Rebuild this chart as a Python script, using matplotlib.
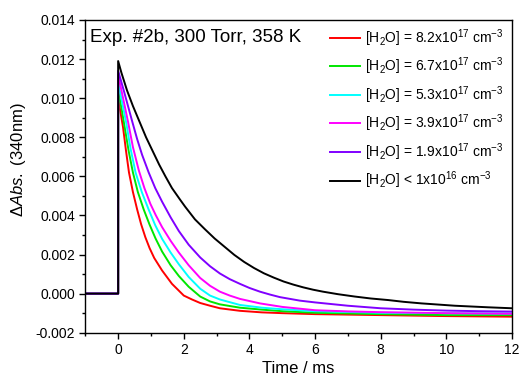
import matplotlib
matplotlib.use("Agg")
import matplotlib.pyplot as plt
from matplotlib.ticker import MultipleLocator, FormatStrFormatter

plt.rcParams['font.family'] = ['Liberation Sans', 'DejaVu Sans']
plt.rcParams['mathtext.fontset'] = 'custom'
plt.rcParams['mathtext.rm'] = 'Liberation Sans'
plt.rcParams['mathtext.it'] = 'Liberation Sans:italic'
plt.rcParams['mathtext.bf'] = 'Liberation Sans:bold'

labels = [
    r"[H$_2$O] = 8.2x10$^{17}$ cm$^{-3}$",
    r"[H$_2$O] = 6.7x10$^{17}$ cm$^{-3}$",
    r"[H$_2$O] = 5.3x10$^{17}$ cm$^{-3}$",
    r"[H$_2$O] = 3.9x10$^{17}$ cm$^{-3}$",
    r"[H$_2$O] = 1.9x10$^{17}$ cm$^{-3}$",
    r"[H$_2$O] < 1x10$^{16}$ cm$^{-3}$",
]
colors = ["#ff0000", "#00e600", "#00ffff", "#ff00ff", "#8000ff", "#000000"]

# pre-trigger baseline
t_pre = [-1.0, -0.5, 0.0]
v_pre = [0.0, 0.0, 0.0]

t_red = [0, 0.08, 0.15, 0.24, 0.33, 0.45, 0.58, 0.7, 0.83, 0.96, 1.1, 1.34, 1.64, 2.0, 2.25, 2.5, 2.8, 3.1, 3.71, 4.38, 5, 6, 8, 10, 12]
v_red = [0.0100, 0.0092, 0.0085, 0.0073, 0.0062, 0.0052, 0.0043, 0.00355, 0.00288, 0.00232, 0.00182, 0.00118, 0.0005, -0.0001, -0.0003, -0.00048, -0.00062, -0.00075, -0.00088, -0.00096, -0.001, -0.00105, -0.0011, -0.00115, -0.00118]

t_green = [0, 0.1, 0.2, 0.32, 0.45, 0.6, 0.78, 0.96, 1.14, 1.34, 1.6, 1.85, 2.15, 2.5, 2.8, 3.1, 3.71, 4.38, 5, 6, 8, 10, 12]
v_green = [0.0104, 0.0095, 0.0085, 0.0073, 0.0062, 0.0052, 0.0043, 0.00352, 0.00282, 0.00215, 0.00145, 0.0009, 0.00035, -0.00015, -0.0004, -0.00055, -0.00072, -0.00082, -0.0009, -0.00098, -0.00105, -0.0011, -0.0011]

t_cyan = [0, 0.12, 0.25, 0.38, 0.53, 0.72, 0.93, 1.13, 1.34, 1.6, 1.85, 2.15, 2.5, 2.8, 3.1, 3.71, 4.38, 5, 6, 8, 10, 12]
v_cyan = [0.0108, 0.0098, 0.0087, 0.0074, 0.0062, 0.0052, 0.0043, 0.0035, 0.0028, 0.0021, 0.0015, 0.00085, 0.00025, -0.0001, -0.0003, -0.00058, -0.00072, -0.0008, -0.0009, -0.00098, -0.001, -0.00102]

t_mag = [0, 0.15, 0.3, 0.45, 0.63, 0.8, 0.98, 1.15, 1.34, 1.6, 1.85, 2.15, 2.5, 2.8, 3.1, 3.4, 3.71, 4.32, 5, 6, 7, 8, 10, 12]
v_mag = [0.0112, 0.0100, 0.0088, 0.0075, 0.0063, 0.0054, 0.0046, 0.0040, 0.0034, 0.0027, 0.0021, 0.00145, 0.0008, 0.0004, 0.0001, -0.0001, -0.00027, -0.0005, -0.00068, -0.00085, -0.00091, -0.00095, -0.001, -0.00103]

t_pur = [0, 0.17, 0.3, 0.43, 0.58, 0.73, 0.93, 1.13, 1.34, 1.6, 1.85, 2.15, 2.5, 2.8, 3.1, 3.4, 3.71, 4.0, 4.32, 4.63, 4.93, 5.54, 6, 7, 8, 9, 10, 11, 12]
v_pur = [0.0114, 0.0104, 0.0096, 0.0088, 0.0079, 0.0071, 0.0062, 0.0054, 0.0047, 0.0039, 0.0032, 0.0025, 0.00185, 0.0014, 0.00103, 0.00074, 0.0005, 0.00029, 0.0001, -0.00005, -0.00018, -0.00036, -0.00045, -0.00062, -0.00075, -0.00082, -0.00087, -0.0009, -0.00092]

t_blk = [0, 0.1, 0.27, 0.45, 0.65, 0.85, 1.05, 1.25, 1.44, 1.64, 1.89, 2.04, 2.34, 2.64, 2.94, 3.24, 3.54, 3.84, 4.14, 4.44, 4.74, 5.04, 5.34, 5.64, 5.94, 6.24, 6.7, 7.21, 7.7, 8.23, 8.7, 9.24, 9.75, 10.26, 11.27, 12]
v_blk = [0.0119, 0.0113, 0.0104, 0.0096, 0.0088, 0.0080, 0.0073, 0.0066, 0.0060, 0.0054, 0.0048, 0.00445, 0.0038, 0.0033, 0.00282, 0.0024, 0.00198, 0.00162, 0.00131, 0.00104, 0.00082, 0.00062, 0.00046, 0.00032, 0.0002, 0.0001, -0.00003, -0.00015, -0.00025, -0.00033, -0.00042, -0.0005, -0.00056, -0.00062, -0.0007, -0.00075]

series = [(t_red, v_red), (t_green, v_green), (t_cyan, v_cyan),
          (t_mag, v_mag), (t_pur, v_pur), (t_blk, v_blk)]

fig = plt.figure(figsize=(5.19, 3.77), dpi=100)
ax = fig.add_axes([0.1644, 0.1175, 0.8221, 0.8295])

for (t, v), c, lab in zip(series, colors, labels):
    ax.plot(t_pre + t, v_pre + v, color=c, lw=1.4, label=lab)

ax.set_xlim(-1, 12)
ax.set_ylim(-0.002, 0.014)
ax.xaxis.set_major_locator(MultipleLocator(2))
ax.xaxis.set_minor_locator(MultipleLocator(1))
ax.yaxis.set_major_locator(MultipleLocator(0.002))
ax.yaxis.set_minor_locator(MultipleLocator(0.001))
ax.yaxis.set_major_formatter(FormatStrFormatter('%.3f'))
ax.tick_params(which='major', direction='out', length=4, width=1, labelsize=10)
ax.tick_params(which='minor', direction='out', length=2.5, width=1)
for s in ax.spines.values():
    s.set_linewidth(1.0)

ax.set_xlabel("Time / ms", fontsize=12, labelpad=3)
ax.set_ylabel(r"$\Delta\mathit{Abs.}$ (340nm)", fontsize=12)
ax.yaxis.set_label_coords(-0.134, 0.553)

ax.text(0.012, 0.945, "Exp. #2b, 300 Torr, 358 K", transform=ax.transAxes,
        fontsize=13.5, ha='left', va='center')

leg = ax.legend(loc='upper right', bbox_to_anchor=(0.992, 0.995), frameon=False,
                fontsize=10, labelspacing=0.5, handlelength=2.15,
                handletextpad=0.36, borderaxespad=0.0)

fig.savefig("out.png", dpi=100)
